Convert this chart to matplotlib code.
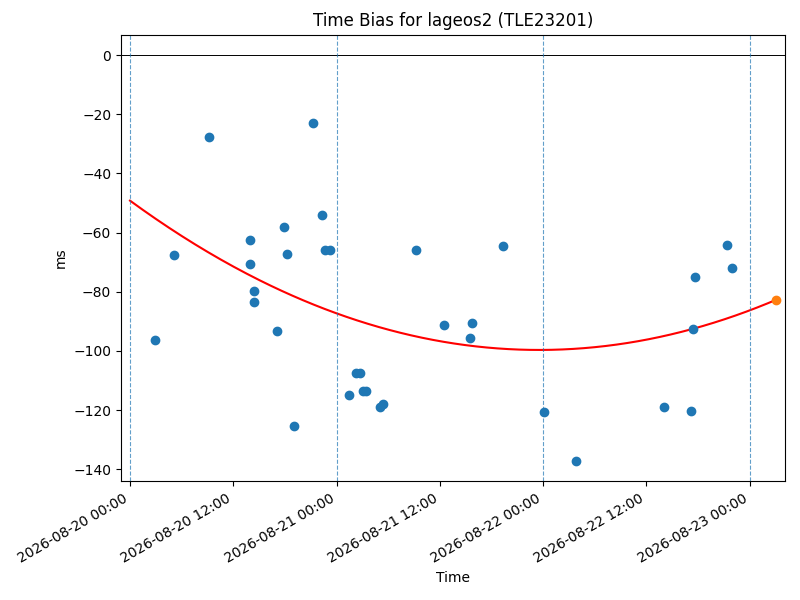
from datetime import datetime, timedelta

import matplotlib
matplotlib.use('Agg')
import matplotlib.dates as mdates
import numpy as np
from matplotlib import pyplot as plt

start = datetime(2026, 8, 20)

# measurement times, hours after 2026-08-20 00:00
obs_hours = [2.9, 5.1, 9.2, 13.9, 14.0, 14.4, 14.4, 17.1, 17.9, 18.2, 19.1, 21.3,
             22.3, 22.7, 23.2, 25.4, 26.3, 26.7, 27.1, 27.4, 29.0, 29.4, 33.2,
             36.5, 39.5, 39.7, 43.3, 48.1, 51.8, 62.0, 65.2, 65.4, 65.7, 69.4, 70.0]
# time bias, ms
obs_bias = [-96.3, -67.5, -27.8, -62.4, -70.5, -79.7, -83.4, -93.2, -58.0, -67.1, -125.4, -23.1,
            -54.2, -65.8, -65.8, -114.9, -107.5, -107.5, -113.6, -113.6, -119.0, -118.0, -65.8,
            -91.2, -95.6, -90.5, -64.4, -120.7, -137.3, -119.0, -120.3, -92.5, -74.9, -64.1, -71.9]

# fitted trend read at a few points (hours, ms)
fit_hours = [0.0, 12.0, 24.0, 47.5, 75.1]
fit_bias = [-49.2, -71.5, -87.3, -99.7, -82.7]

pred_hours = 75.1
pred_bias = -82.7

day_marks = [0, 24, 48, 72]


def to_dt(hours):
    return [start + timedelta(hours=h) for h in hours]


coef = np.polyfit(fit_hours, fit_bias, 2)
curve_h = np.linspace(0, pred_hours, 300)
curve_v = np.polyval(coef, curve_h)

fig, ax = plt.subplots(figsize=(8, 6), dpi=100)

ax.scatter(to_dt(obs_hours), obs_bias, color='C0', zorder=3)
ax.plot(to_dt(curve_h), curve_v, color='red', zorder=2)
ax.scatter(to_dt([pred_hours]), [pred_bias], color='C1', zorder=4)

ax.axhline(0, color='black', linewidth=0.7)
for d in to_dt(day_marks):
    ax.axvline(d, color='C0', linestyle='--', linewidth=0.8, alpha=0.7)

ax.set_xlim(start - timedelta(hours=1.05), start + timedelta(hours=76.1))
ax.xaxis.set_major_locator(mdates.HourLocator(byhour=[0, 12]))
ax.xaxis.set_major_formatter(mdates.DateFormatter('%Y-%m-%d %H:%M'))

ax.set_title('Time Bias for lageos2 (TLE23201)')
ax.set_xlabel('Time')
ax.set_ylabel('ms')
fig.autofmt_xdate()
fig.tight_layout()
fig.subplots_adjust(top=0.942)
fig.savefig('out.png')
plt.close(fig)
